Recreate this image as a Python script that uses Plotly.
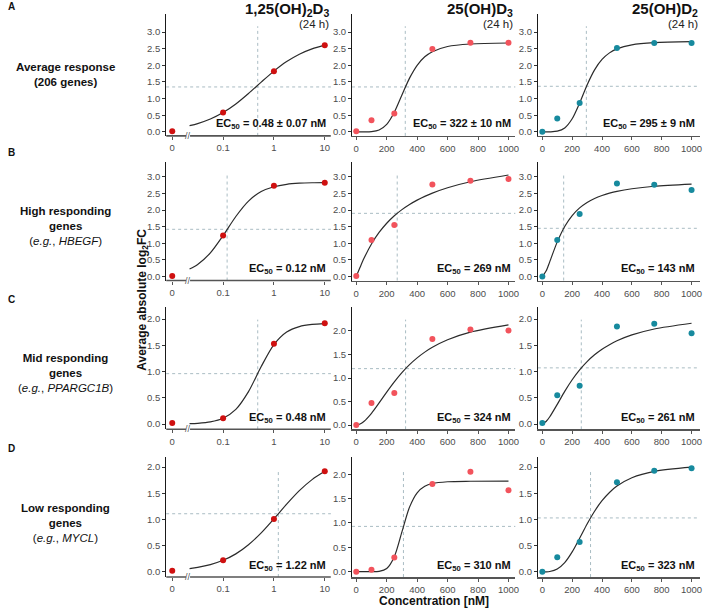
import numpy as np
import plotly.graph_objects as go

# ---------------- data ----------------
COMPOUNDS = ["1,25(OH)<sub>2</sub>D<sub>3</sub>", "25(OH)D<sub>3</sub>", "25(OH)D<sub>2</sub>"]
TIME_LABEL = "(24 h)"
ROW_LETTERS = ["A", "B", "C", "D"]
ROW_TITLES = [
    "<b>Average response<br>(206 genes)</b>",
    "<b>High responding<br>genes</b><br>(<i>e.g.</i>, <i>HBEGF</i>)",
    "<b>Mid responding<br>genes</b><br>(<i>e.g.</i>, <i>PPARGC1B</i>)",
    "<b>Low responding<br>genes</b><br>(<i>e.g.</i>, <i>MYCL</i>)",
]
Y_TITLE = "<b>Average absolute log<sub>2</sub>FC</b>"
X_TITLE = "<b>Concentration [nM]</b>"

CONC_LOG = [0, 0.1, 1, 10]                 # 1,25(OH)2D3 concentrations (nM)
CONC_LIN = [0, 100, 250, 500, 750, 1000]   # 25(OH)D3 / 25(OH)D2 concentrations (nM)
LOG_TICK_VALUES = [0, 0.1, 1, 10]
LOG_TICK_TEXT = ["0", "0.1", "1", "10"]
LIN_TICK_VALUES = [0, 200, 400, 600, 800, 1000]

# measured points
PTS_A_125 = [0.02, 0.58, 1.82, 2.60]
PTS_A_D3 = [0.02, 0.35, 0.55, 2.49, 2.68, 2.68]
PTS_A_D2 = [0.00, 0.40, 0.87, 2.52, 2.67, 2.67]
PTS_B_125 = [0.02, 1.23, 2.73, 2.82]
PTS_B_D3 = [0.02, 1.10, 1.55, 2.77, 2.88, 2.93]
PTS_B_D2 = [0.00, 1.10, 1.88, 2.80, 2.76, 2.60]
PTS_C_125 = [0.02, 0.11, 1.53, 1.92]
PTS_C_D3 = [0.00, 0.47, 0.68, 1.83, 2.03, 2.01]
PTS_C_D2 = [0.02, 0.55, 0.73, 1.86, 1.91, 1.73]
PTS_D_125 = [0.02, 0.22, 1.01, 1.92]
PTS_D_D3 = [0.00, 0.04, 0.29, 1.80, 2.05, 1.67]
PTS_D_D2 = [0.00, 0.28, 0.57, 1.71, 1.93, 1.98]

# fitted dose-response curves
CURVE_X_LOG = [0.0219, 0.0316, 0.0562, 0.1, 0.178, 0.316, 0.562, 1, 1.78, 3.16, 5.62, 10]
FIT_A_125 = [0.186, 0.249, 0.385, 0.580, 0.838, 1.153, 1.495, 1.826, 2.112, 2.335, 2.496, 2.606]
FIT_B_125 = [0.226, 0.362, 0.711, 1.230, 1.805, 2.268, 2.554, 2.700, 2.773, 2.805, 2.819, 2.825]
FIT_C_125 = [0.008, 0.015, 0.041, 0.110, 0.279, 0.618, 1.095, 1.512, 1.751, 1.856, 1.897, 1.912]
FIT_D_125 = [0.062, 0.085, 0.138, 0.220, 0.343, 0.518, 0.745, 1.013, 1.293, 1.551, 1.762, 1.920]

CURVE_X_LIN = [0, 25, 50, 100, 150, 200, 250, 300, 350, 400, 450, 500, 600, 750, 1000]
FIT_A_D3 = [0, 0, 0, 0.008, 0.058, 0.227, 0.590, 1.107, 1.615, 2.000, 2.257, 2.410, 2.566, 2.641, 2.671]
FIT_A_D2 = [0, 0, 0.001, 0.020, 0.119, 0.395, 0.870, 1.412, 1.864, 2.177, 2.374, 2.495, 2.617, 2.682, 2.710]
FIT_B_D3 = [0, 0.277, 0.539, 0.979, 1.325, 1.601, 1.826, 2.011, 2.166, 2.297, 2.410, 2.508, 2.669, 2.849, 3.051]
FIT_B_D2 = [0, 0.164, 0.449, 1.042, 1.506, 1.833, 2.063, 2.227, 2.347, 2.437, 2.506, 2.561, 2.639, 2.713, 2.780]
FIT_C_D3 = [0, 0.022, 0.076, 0.249, 0.470, 0.702, 0.920, 1.116, 1.285, 1.429, 1.551, 1.654, 1.814, 1.976, 2.130]
FIT_C_D2 = [0, 0.048, 0.139, 0.375, 0.622, 0.844, 1.033, 1.190, 1.319, 1.425, 1.512, 1.585, 1.697, 1.810, 1.920]
FIT_D_D3 = [0, 0, 0, 0, 0.008, 0.067, 0.309, 0.816, 1.326, 1.620, 1.753, 1.810, 1.847, 1.857, 1.860]
FIT_D_D2 = [0, 0, 0.006, 0.053, 0.175, 0.380, 0.641, 0.913, 1.157, 1.359, 1.517, 1.638, 1.797, 1.919, 2.000]

EC50_A = [0.48, 322, 295]
EC50_B = [0.12, 269, 143]
EC50_C = [0.48, 324, 261]
EC50_D = [1.22, 310, 323]
HALF_A = [1.35, 1.35, 1.37]
HALF_B = [1.42, 1.90, 1.45]
HALF_C = [0.96, 1.20, 1.07]
HALF_D = [1.11, 0.93, 1.03]
EC50_TEXT_A = ["0.48 ± 0.07 nM", "322 ± 10 nM", "295 ± 9 nM"]
EC50_TEXT_B = ["0.12 nM", "269 nM", "143 nM"]
EC50_TEXT_C = ["0.48 nM", "324 nM", "261 nM"]
EC50_TEXT_D = ["1.22 nM", "310 nM", "323 nM"]

# ---------------- assembly ----------------
points = [[PTS_A_125, PTS_A_D3, PTS_A_D2], [PTS_B_125, PTS_B_D3, PTS_B_D2],
          [PTS_C_125, PTS_C_D3, PTS_C_D2], [PTS_D_125, PTS_D_D3, PTS_D_D2]]
fits = [[FIT_A_125, FIT_A_D3, FIT_A_D2], [FIT_B_125, FIT_B_D3, FIT_B_D2],
        [FIT_C_125, FIT_C_D3, FIT_C_D2], [FIT_D_125, FIT_D_D3, FIT_D_D2]]
ec50s = [EC50_A, EC50_B, EC50_C, EC50_D]
halves = [HALF_A, HALF_B, HALF_C, HALF_D]
ec_texts = [EC50_TEXT_A, EC50_TEXT_B, EC50_TEXT_C, EC50_TEXT_D]

ZERO_POS = 0.01  # where concentration 0 sits on the broken log axis


def logpos(vals):
    return [np.log10(v) if v > 0 else np.log10(ZERO_POS) for v in vals]


COLORS = ["#cf1010", "#f2535c", "#178a9e"]
COL_DOM = [[0.236, 0.470], [0.500, 0.732], [0.764, 0.994]]
ROW_DOM = [[0.778, 0.977], [0.5416, 0.7357], [0.2985, 0.4976], [0.0571, 0.2529]]
Y_RANGES = [[[-0.12, 3.54]] * 3, [[-0.12, 3.45]] * 3,
            [[-0.10, 2.22], [-0.09, 2.50], [-0.10, 2.22]],
            [[-0.10, 2.19], [-0.11, 2.35], [-0.10, 2.19]]]
X_RANGES = [[-2.12, 1.12], [-28, 1045], [-30, 1055]]

FONT = "Liberation Sans, Arial, Helvetica, sans-serif"
TICKFONT = dict(family="Liberation Sans Narrow, Arial Narrow, Liberation Sans, Arial", size=9.5, color="#4d4d4d")
REF_LINE = dict(color="#a9bcc3", width=1, dash="dot")

fig = go.Figure()
layout = {}
shapes = []
annotations = []

for r in range(4):
    for c in range(3):
        k = r * 3 + c + 1
        sfx = "" if k == 1 else str(k)
        xa, ya = f"x{sfx}", f"y{sfx}"
        if c == 0:
            cx = logpos(CURVE_X_LOG)
            px = logpos(CONC_LOG)
            ecx = np.log10(ec50s[r][c])
        else:
            cx = CURVE_X_LIN
            px = CONC_LIN
            ecx = ec50s[r][c]

        # reference lines
        shapes.append(dict(type="line", xref=xa, yref=f"{ya} domain", x0=ecx, x1=ecx, y0=0, y1=0.9,
                           line=REF_LINE, layer="below"))
        shapes.append(dict(type="line", xref=f"{xa} domain", yref=ya, x0=0, x1=1,
                           y0=halves[r][c], y1=halves[r][c], line=REF_LINE, layer="below"))

        fig.add_trace(go.Scatter(x=cx, y=fits[r][c], mode="lines", xaxis=xa, yaxis=ya,
                                 line=dict(color="#2b2b2b", width=1.2, shape="spline", smoothing=0.8),
                                 hoverinfo="skip", showlegend=False))
        fig.add_trace(go.Scatter(x=px, y=points[r][c], mode="markers", xaxis=xa, yaxis=ya,
                                 marker=dict(color=COLORS[c], size=6), showlegend=False))

        xaxis = dict(domain=COL_DOM[c], anchor=ya, range=X_RANGES[c], showgrid=False, zeroline=False,
                     ticks="outside", ticklen=3, tickcolor="#555555", tickfont=TICKFONT,
                     linecolor="#555555", linewidth=1.6, fixedrange=True)
        if c == 0:
            xaxis.update(showline=False, tickvals=logpos(LOG_TICK_VALUES), ticktext=LOG_TICK_TEXT)
            # broken axis line
            shapes.append(dict(type="line", xref=xa, yref=f"{ya} domain", x0=X_RANGES[0][0], x1=-1.73,
                               y0=0, y1=0, line=dict(color="#555555", width=1.6)))
            shapes.append(dict(type="line", xref=xa, yref=f"{ya} domain", x0=-1.65, x1=X_RANGES[0][1],
                               y0=0, y1=0, line=dict(color="#555555", width=1.6)))
            annotations.append(dict(xref=xa, yref=f"{ya} domain", x=-1.69, y=0, text="//", showarrow=False,
                                    font=dict(family=FONT, size=9, color="#555555"),
                                    xanchor="center", yanchor="middle"))
        else:
            xaxis.update(showline=True, tickvals=LIN_TICK_VALUES)
        yr = Y_RANGES[r][c]
        yticks = [0, 0.5, 1.0, 1.5, 2.0, 2.5, 3.0] if yr[1] > 3.1 else [0, 0.5, 1.0, 1.5, 2.0]
        yaxis = dict(domain=ROW_DOM[r], anchor=xa, range=yr, showgrid=False, zeroline=False,
                     showline=True, linecolor="#1a1a1a", linewidth=1, ticks="outside", ticklen=3,
                     tickcolor="#333333", tickfont=TICKFONT, tickvals=yticks, tickformat=".1f",
                     fixedrange=True)
        layout[f"xaxis{sfx}"] = xaxis
        layout[f"yaxis{sfx}"] = yaxis

        annotations.append(dict(xref=f"{xa} domain", yref=f"{ya} domain", x=0.985, y=0.02,
                                xanchor="right", yanchor="bottom", showarrow=False,
                                text=f"<b>EC<sub>50</sub> = {ec_texts[r][c]}</b>",
                                font=dict(family=FONT, size=11, color="#111111")))

# column titles
for c in range(3):
    annotations.append(dict(xref="paper", yref="paper", x=COL_DOM[c][1], y=0.984, xanchor="right",
                            yanchor="middle", showarrow=False, text=f"<b>{COMPOUNDS[c]}</b>",
                            font=dict(family=FONT, size=15, color="#111111")))
    annotations.append(dict(xref="paper", yref="paper", x=COL_DOM[c][1], y=0.9615, xanchor="right",
                            yanchor="middle", showarrow=False, text=TIME_LABEL,
                            font=dict(family=FONT, size=11.5, color="#222222")))

# row letters and titles
LETTER_Y = [7, 153, 300, 449]
TITLE_Y = [75, 226, 374, 524]
for r in range(4):
    annotations.append(dict(xref="paper", yref="paper", x=6 / 708, y=1 - LETTER_Y[r] / 613,
                            xanchor="left", yanchor="middle", showarrow=False,
                            text=f"<b>{ROW_LETTERS[r]}</b>", font=dict(family=FONT, size=10, color="#111111")))
    annotations.append(dict(xref="paper", yref="paper", x=66 / 708, y=1 - TITLE_Y[r] / 613,
                            xanchor="center", yanchor="middle", showarrow=False, align="center",
                            text=ROW_TITLES[r], font=dict(family=FONT, size=11.5, color="#111111")))

annotations.append(dict(xref="paper", yref="paper", x=143 / 708, y=1 - 300 / 613, textangle=-90,
                        xanchor="center", yanchor="middle", showarrow=False, text=Y_TITLE,
                        font=dict(family=FONT, size=12, color="#111111")))
annotations.append(dict(xref="paper", yref="paper", x=436 / 708, y=1 - 602 / 613,
                        xanchor="center", yanchor="middle", showarrow=False, text=X_TITLE,
                        font=dict(family=FONT, size=12, color="#111111")))

fig.update_layout(**layout)
fig.update_layout(width=708, height=613, margin=dict(l=0, r=0, t=0, b=0),
                  paper_bgcolor="white", plot_bgcolor="white", showlegend=False,
                  shapes=shapes, annotations=annotations, font=dict(family=FONT))

fig.write_html("out.html", config={"displayModeBar": False, "staticPlot": True},
               post_script="document.body.style.margin='0';document.body.style.overflow='hidden';")
